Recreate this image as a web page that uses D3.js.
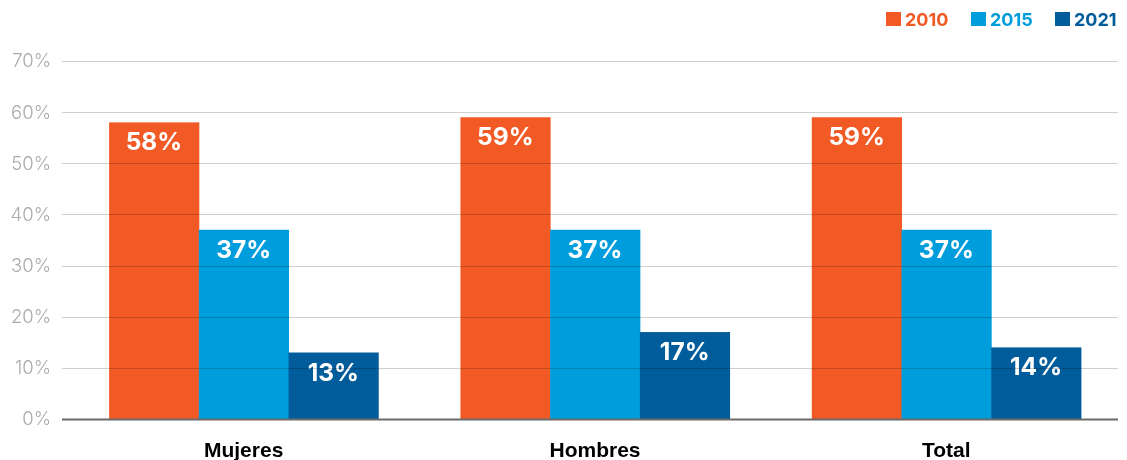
<!DOCTYPE html>
<html>
<head>
<meta charset="utf-8">
<script src="https://cdn.jsdelivr.net/npm/d3@7"></script>
<style>
  html, body { margin: 0; padding: 0; background: #fff; }
  svg { display: block; }
</style>
</head>
<body>
<svg id="chart" width="1127" height="460"></svg>
<script>
// Data
const categories = ["Mujeres", "Hombres", "Total"];
const years = ["2010", "2015", "2021"];
const values2010 = [58, 59, 59];
const values2015 = [37, 37, 37];
const values2021 = [13, 17, 14];
const yTicks = [0, 10, 20, 30, 40, 50, 60, 70];
const colors = ["#F15A24", "#009DDC", "#005C9B"];

const seriesValues = [values2010, values2015, values2021];
const rows = categories.map((c, i) => ({
  category: c,
  values: years.map((y, j) => ({ year: y, value: seriesValues[j][i], color: colors[j] }))
}));

const svg = d3.select("#chart");
const plotLeft = 62, plotRight = 1118;
const yTop = 61, yBottom = 419;

const x0 = d3.scaleBand().domain(categories).range([68, 1122])
  .paddingInner(0.234).paddingOuter(0.117);
const x1 = d3.scaleBand().domain(years).range([0, x0.bandwidth()]).padding(0);
const y = d3.scaleLinear().domain([0, 70]).range([yBottom, yTop]);

// Y tick labels
const yAxis = d3.axisLeft(y).tickValues(yTicks).tickFormat(d => d + "%").tickSize(0).tickPadding(0);
const gy = svg.append("g").attr("transform", `translate(51,0)`).call(yAxis);
gy.select(".domain").remove();
gy.selectAll("text")
  .attr("fill", "#ababab")
  .style("font-family", "Inter, 'Open Sans', sans-serif")
  .style("font-weight", 300)
  .style("font-size", "18.5px");

// Bars
const groups = svg.append("g").selectAll("g").data(rows).join("g")
  .attr("transform", d => `translate(${x0(d.category)},0)`);

groups.selectAll("rect").data(d => d.values).join("rect")
  .attr("x", d => x1(d.year))
  .attr("width", x1.bandwidth() + 0.5)
  .attr("y", d => y(d.value))
  .attr("height", d => yBottom - y(d.value))
  .attr("fill", d => d.color);

// Gridlines drawn over the bars
const grid = svg.append("g").style("mix-blend-mode", "multiply");
grid.selectAll("line").data(yTicks.filter(t => t > 0)).join("line")
  .attr("x1", plotLeft).attr("x2", plotRight)
  .attr("y1", d => Math.round(y(d)) + 0.5).attr("y2", d => Math.round(y(d)) + 0.5)
  .attr("stroke", "#cfcfcf").attr("stroke-width", 1);

// Value labels
groups.selectAll("text.val").data(d => d.values).join("text")
  .attr("class", "val")
  .attr("x", d => x1(d.year) + x1.bandwidth() / 2)
  .attr("y", d => y(d.value) + 28)
  .attr("text-anchor", "middle")
  .attr("fill", "#fff")
  .style("font-family", "Inter, 'Open Sans', sans-serif")
  .style("font-weight", 700)
  .style("font-size", "24.5px")
  .text(d => d.value + "%");

// Baseline
svg.append("line")
  .attr("x1", plotLeft).attr("x2", plotRight)
  .attr("y1", yBottom + 0.5).attr("y2", yBottom + 0.5)
  .attr("stroke", "#6b6b6b").attr("stroke-width", 2);

// Category labels
svg.append("g").selectAll("text").data(categories).join("text")
  .attr("x", d => x0(d) + x0.bandwidth() / 2)
  .attr("y", 457)
  .attr("text-anchor", "middle")
  .attr("fill", "#000")
  .style("font-family", "'Liberation Sans Narrow', 'Arial Narrow', 'Liberation Sans', sans-serif")
  .style("font-weight", 700)
  .style("font-size", "21px")
  .text(d => d);

// Legend
const legendX = [886, 971, 1055];
const legend = svg.append("g").selectAll("g").data(years).join("g")
  .attr("transform", (d, i) => `translate(${legendX[i]},12)`);
legend.append("rect")
  .attr("width", 15).attr("height", 14)
  .attr("fill", (d, i) => colors[i]);
legend.append("text")
  .attr("x", 19).attr("y", 14)
  .attr("fill", (d, i) => colors[i])
  .style("font-family", "Inter, 'Open Sans', sans-serif")
  .style("font-weight", 700)
  .style("font-size", "18px")
  .text(d => d);
</script>
</body>
</html>
